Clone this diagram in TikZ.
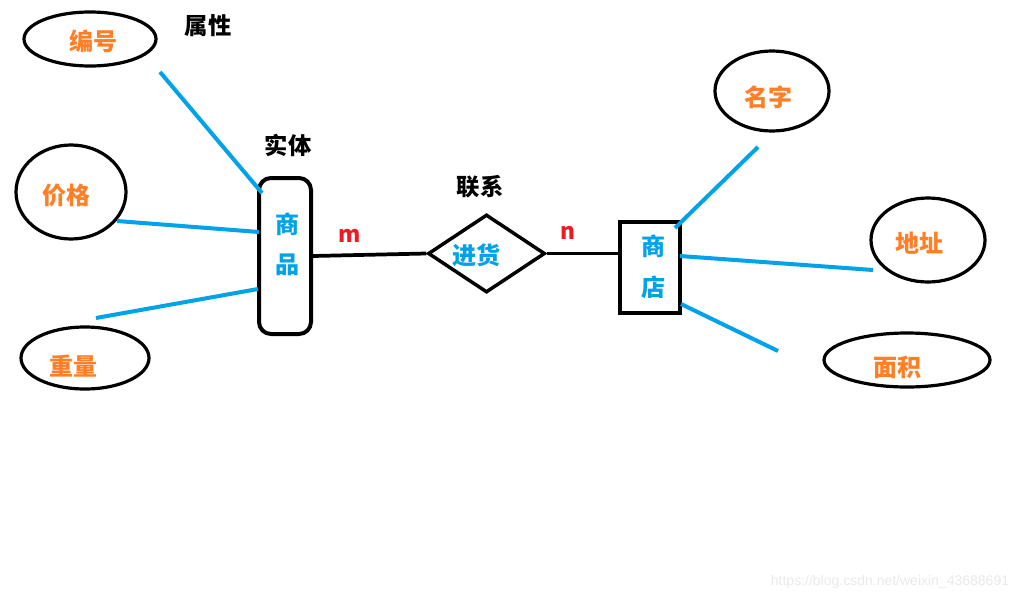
\documentclass[tikz,border=0pt]{standalone}
\usepackage{fontspec}
\usetikzlibrary{shapes.geometric}
\newfontfamily\cjk{Noto Sans CJK SC}
\newfontfamily\wmfont{Liberation Sans}
\definecolor{paintorange}{HTML}{FF7F27}
\definecolor{paintblue}{HTML}{00A2E8}
\definecolor{paintred}{HTML}{ED1C24}
\definecolor{wmgray}{HTML}{EAEAEA}
\tikzset{
  attr/.style={ellipse, draw=black, line width=2.4pt, inner sep=0pt},
  attrtext/.style={text=paintorange, font=\cjk\bfseries\fontsize{18}{20}\selectfont, inner sep=0pt},
  caption/.style={text=black, font=\cjk\bfseries\fontsize{17.5}{20}\selectfont, inner sep=0pt},
  enttext/.style={text=paintblue, font=\cjk\bfseries\fontsize{18}{20}\selectfont, inner sep=0pt},
  card/.style={text=paintred, font=\cjk\bfseries\fontsize{17}{20}\selectfont, inner sep=0pt},
  attrline/.style={draw=paintblue, line width=3pt},
  relline/.style={draw=black, line width=2.8pt},
}
\begin{document}
\begin{tikzpicture}[x=0.75pt, y=-0.75pt]
\useasboundingbox[fill=white] (0,0) rectangle (1034,600);

% left entity
\node[draw=black, line width=3pt, rounded corners=9pt, minimum width=39pt, minimum height=117pt, inner sep=0pt] (goods) at (285,256) {};
\node[enttext] (goodsA) at (287,224) {商};
\node[enttext] (goodsB) at (287,265) {品};
\node[caption] (entcap) at (288,145) {实体};
\node[caption] (attrcap) at (208,26) {属性};

% left attributes
\node[attr, minimum width=99pt, minimum height=40.5pt] (num) at (90,39) {};
\node[attrtext] (numt) at (93,41) {编号};
\node[attr, minimum width=82.5pt, minimum height=70.5pt] (price) at (71,192) {};
\node[attrtext] (pricet) at (66,195) {价格};
\node[attr, minimum width=96pt, minimum height=46.5pt] (weight) at (85,358) {};
\node[attrtext] (weightt) at (73,366) {重量};

\coordinate (l1a) at (160,72);
\coordinate (l1b) at (262,193);
\coordinate (l2a) at (117,221);
\coordinate (l2b) at (259,232);
\coordinate (l3a) at (96,318);
\coordinate (l3b) at (258,289);
\draw[attrline] (l1a) -- (l1b);
\draw[attrline] (l2a) -- (l2b);
\draw[attrline] (l3a) -- (l3b);

% relationship
\node[diamond, draw=black, line width=2.6pt, minimum width=87.75pt, minimum height=58.5pt, inner sep=0pt] (rel) at (486.5,253.5) {};
\node[enttext] (relt) at (476,255) {进货};
\node[caption] (relcap) at (480,187) {联系};
\node[card] (m) at (350,236) {m};
\node[card] (n) at (568,233) {n};

% right entity
\node[draw=black, line width=3pt, minimum width=45pt, minimum height=68pt, inner sep=0pt] (shop) at (650,267.5) {};
\node[enttext] (shopA) at (653,246) {商};
\node[enttext] (shopB) at (653,287) {店};

\draw[relline] (goods.east) -- (rel.west);
\draw[relline] (rel.east) -- (rel.east -| shop.west);

% right attributes
\node[attr, minimum width=85.5pt, minimum height=60pt] (name) at (772,91) {};
\node[attrtext] (namet) at (768,97) {名字};
\node[attr, minimum width=85.5pt, minimum height=63pt] (addr) at (928,240) {};
\node[attrtext] (addrt) at (919,243) {地址};
\node[attr, minimum width=124.5pt, minimum height=40.5pt] (area) at (907,360) {};
\node[attrtext] (areat) at (897,367) {面积};

\coordinate (r1a) at (675,228);
\coordinate (r1b) at (758,147);
\coordinate (r2a) at (680,256);
\coordinate (r2b) at (873,270);
\coordinate (r3a) at (681,304);
\coordinate (r3b) at (778,351);
\draw[attrline] (r1a) -- (r1b);
\draw[attrline] (r2a) -- (r2b);
\draw[attrline] (r3a) -- (r3b);

\node[text=wmgray, font=\wmfont\fontsize{10.5}{12}\selectfont, inner sep=0pt] (wm) at (890,582) {https://blog.csdn.net/weixin\_43688691};
\end{tikzpicture}
\end{document}
